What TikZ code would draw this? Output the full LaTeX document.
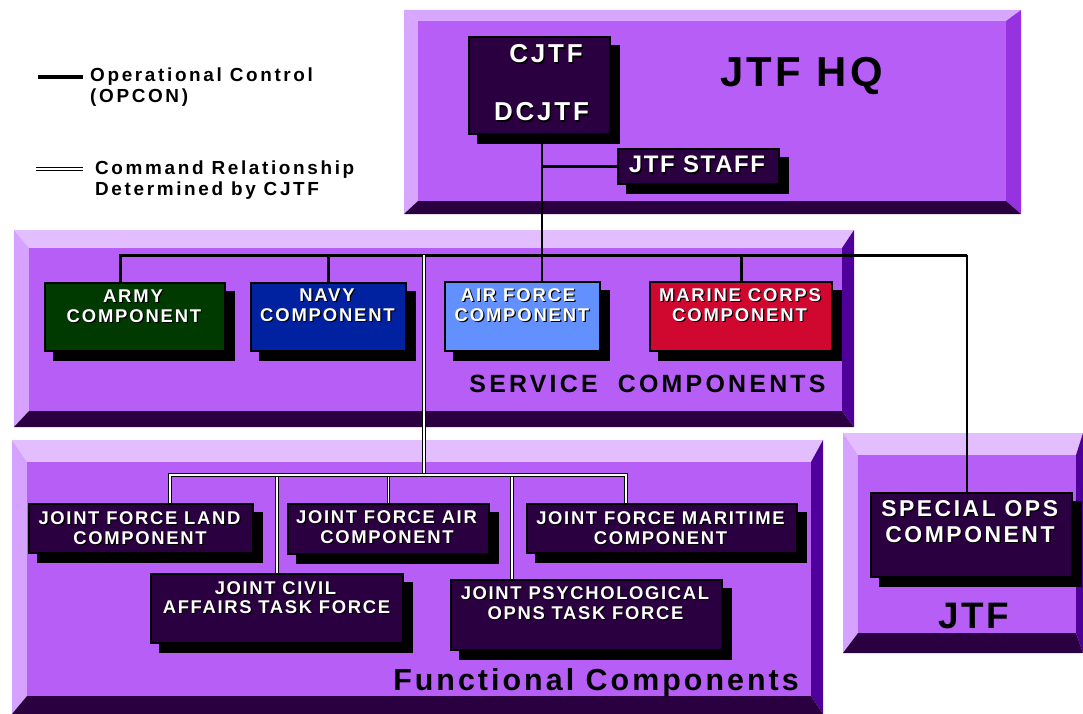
\documentclass[tikz,border=0pt]{standalone}
\usepackage{fontspec}
\setmainfont{Liberation Sans}
\definecolor{face}{HTML}{B75EF7}
\definecolor{dpurple}{HTML}{2A0040}
\definecolor{armyc}{HTML}{003A00}
\definecolor{navyc}{HTML}{0022A0}
\definecolor{afc}{HTML}{6290FF}
\definecolor{marc}{HTML}{D00830}
\definecolor{toplight}{HTML}{E2BEFF}
\definecolor{topmid}{HTML}{D7A6FF}
\definecolor{leftc}{HTML}{D5A2FF}
\definecolor{rightmid}{HTML}{9632E0}
\definecolor{rightdark}{HTML}{50009A}
\pgfdeclarelayer{panels}
\pgfdeclarelayer{wires}
\pgfsetlayers{panels,wires,main}
\newcommand\fs[2]{\fontsize{#1}{#1}\selectfont\bfseries\addfontfeature{LetterSpace=#2}}
\newcommand\bevel[8]{%
 \fill[btop] (#1,#2) -- (#3,#2) -- ({#3-#8},{#2+#5}) -- ({#1+#6},{#2+#5}) -- cycle;
 \fill[bleft] (#1,#2) -- ({#1+#6},{#2+#5}) -- ({#1+#6},{#4-#7}) -- (#1,#4) -- cycle;
 \fill[bright] (#3,#2) -- (#3,#4) -- ({#3-#8},{#4-#7}) -- ({#3-#8},{#2+#5}) -- cycle;
 \fill[dpurple] (#1,#4) -- (#3,#4) -- ({#3-#8},{#4-#7}) -- ({#1+#6},{#4-#7}) -- cycle;
 \fill[face] ({#1+#6},{#2+#5}) rectangle ({#3-#8},{#4-#7});
}
\newcommand\cbox[6]{%
 \node[shad, minimum width=#4bp, minimum height=#5bp] (#1-s) at ({#2+9},{#3+9}) {};
 \node[cboxst, fill=#6, minimum width={#4bp-2bp}, minimum height={#5bp-2bp}] (#1) at (#2,#3) {};
}
\newcommand\wl[4]{%
 \node[wtxt, text=black] (#1-s) at ({#2+1.2},{#3+1.2}) {#4};
 \node[wtxt] (#1) at (#2,#3) {#4};
}
\tikzset{
 shad/.style={fill=black, inner sep=0pt, rectangle},
 cboxst/.style={draw=black, line width=2bp, inner sep=0pt, rectangle},
 wtxt/.style={anchor=base, inner sep=0pt, text=white, font=\curfont},
 ttl/.style={anchor=base, inner sep=0pt, text=black},
 lgd/.style={anchor=base west, inner sep=0pt, text=black, font=\fs{19}{14}},
 opthick/.style={line width=3bp, black},
 opmid/.style={line width=2.2bp, black},
 opthin/.style={line width=1.6bp, black},
 cmd/.style={line width=1bp, draw=black, double=white, double distance=1.6bp},
}
\begin{document}
\begin{tikzpicture}[x=1bp,y=-1bp]
\useasboundingbox (0,0) rectangle (1083,714);
% panels
\begin{pgfonlayer}{panels}
\colorlet{btop}{topmid}\colorlet{bleft}{topmid}\colorlet{bright}{rightmid}
\bevel{404}{10}{1021}{214}{11}{14}{13}{15}
\colorlet{btop}{toplight}\colorlet{bleft}{leftc}\colorlet{bright}{rightdark}
\bevel{14}{230}{854}{427}{18}{15}{16}{12}
\bevel{12}{440}{823}{714}{22}{15}{18}{12}
\bevel{843}{433}{1083}{653}{22}{15}{20}{7}
\end{pgfonlayer}
% legend
\coordinate (lgA1) at (38,77); \coordinate (lgA2) at (83,77);
\draw[line width=4bp] (lgA1) -- (lgA2);
\coordinate (lgB1) at (36,169); \coordinate (lgB2) at (83,169);
\draw[cmd] (lgB1) -- (lgB2);
\node[lgd] (lg1) at (90,82) {Operational Control};
\node[lgd] (lg2) at (90,103) {(OPCON)};
\node[lgd] (lg3) at (95,175) {Command Relationship};
\node[lgd] (lg4) at (95,196) {Determined by CJTF};
% boxes
\cbox{cjtf}{539.5}{85.5}{143}{99}{dpurple}
\cbox{staff}{698.5}{166.5}{163}{37}{dpurple}
\cbox{army}{135}{317}{182}{70}{armyc}
\cbox{navy}{328.5}{317}{157}{70}{navyc}
\cbox{airforce}{522.5}{316.5}{157}{71}{afc}
\cbox{marine}{741}{316.5}{184}{71}{marc}
\cbox{land}{141}{528.5}{226}{51}{dpurple}
\cbox{jfair}{388.5}{529}{203}{52}{dpurple}
\cbox{maritime}{662}{528.5}{272}{51}{dpurple}
\cbox{civil}{277}{608.5}{254}{71}{dpurple}
\cbox{psyop}{586.5}{615}{273}{72}{dpurple}
\cbox{spec}{971.5}{535}{203}{86}{dpurple}
% connectors
\coordinate (cv) at ([xshift=2.5bp]cjtf.south);
\coordinate (busL) at (120,255); \coordinate (busR) at (967,255);
\coordinate (cmdT) at (424,255); \coordinate (cmdB) at (424,475);
\coordinate (hL) at (170,475); \coordinate (hR) at (626,475);
\coordinate (pD) at (512,475);
\begin{pgfonlayer}{wires}
\draw[opthin] (cv) -- (cv |- airforce.north);
\draw[opmid] (cv |- staff.west) -- (staff.west);
\draw[opthick] (busL |- army.north) -- (busL) -- (busR);
\draw[opthin] (busR) -- (busR |- spec.north);
\draw[opthick] (navy.north) -- (navy.north |- busL);
\draw[opthick] (marine.north) -- (marine.north |- busL);
\draw[cmd] (civil.north) -- (civil.north |- hL);
\draw[cmd] (jfair.north) -- (jfair.north |- hL);
\draw[cmd] (pD) -- (pD |- psyop.north);
\draw[cmd] (cmdT) -- (cmdB);
\draw[cmd] (hL |- land.north) -- (hL) -- (hR) -- (hR |- maritime.north);
\end{pgfonlayer}
% white texts
\def\curfont{\fs{26}{11}}
\wl{tcjtf}{546}{63}{CJTF}
\wl{tdcjtf}{541.5}{121}{DCJTF}
\def\curfont{\fs{24}{7}}
\wl{tstaff}{697}{173}{JTF STAFF}
\def\curfont{\fs{18.5}{10}}
\wl{tarmy1}{133}{302}{ARMY}
\wl{tarmy2}{134}{322}{COMPONENT}
\wl{tnavy1}{327}{301}{NAVY}
\wl{tnavy2}{327.5}{321}{COMPONENT}
\wl{taf1}{518}{301}{AIR FORCE}
\wl{taf2}{522}{321}{COMPONENT}
\wl{tmar1}{740}{301}{MARINE CORPS}
\wl{tmar2}{739.5}{321}{COMPONENT}
\def\curfont{\fs{18.5}{9}}
\wl{tland1}{139.5}{524}{JOINT FORCE LAND}
\wl{tland2}{140}{544}{COMPONENT}
\wl{tjfa1}{386.5}{523}{JOINT FORCE AIR}
\wl{tjfa2}{387}{543}{COMPONENT}
\wl{tmrt1}{660.5}{524}{JOINT FORCE MARITIME}
\wl{tmrt2}{660.5}{544}{COMPONENT}
\wl{tciv1}{275.5}{594}{JOINT CIVIL}
\wl{tciv2}{276.5}{613}{AFFAIRS TASK FORCE}
\wl{tpsy1}{585}{599}{JOINT PSYCHOLOGICAL}
\wl{tpsy2}{585.5}{619}{OPNS TASK FORCE}
\def\curfont{\fs{23}{11}}
\wl{tspec1}{969.7}{516}{SPECIAL OPS}
\wl{tspec2}{970}{542}{COMPONENT}
% black titles
\node[ttl, font=\fs{42}{8}] (thq) at (801.5,87) {JTF HQ};
\node[ttl, font=\fs{25}{13}] (tsvc) at (647.5,392) {SERVICE\hspace{10bp} COMPONENTS};
\node[ttl, font=\fs{30.5}{10}] (tfun) at (596,690) {Functional Components};
\node[ttl, font=\fs{37}{7}] (tjtf) at (974,628) {JTF};
\end{tikzpicture}
\end{document}
